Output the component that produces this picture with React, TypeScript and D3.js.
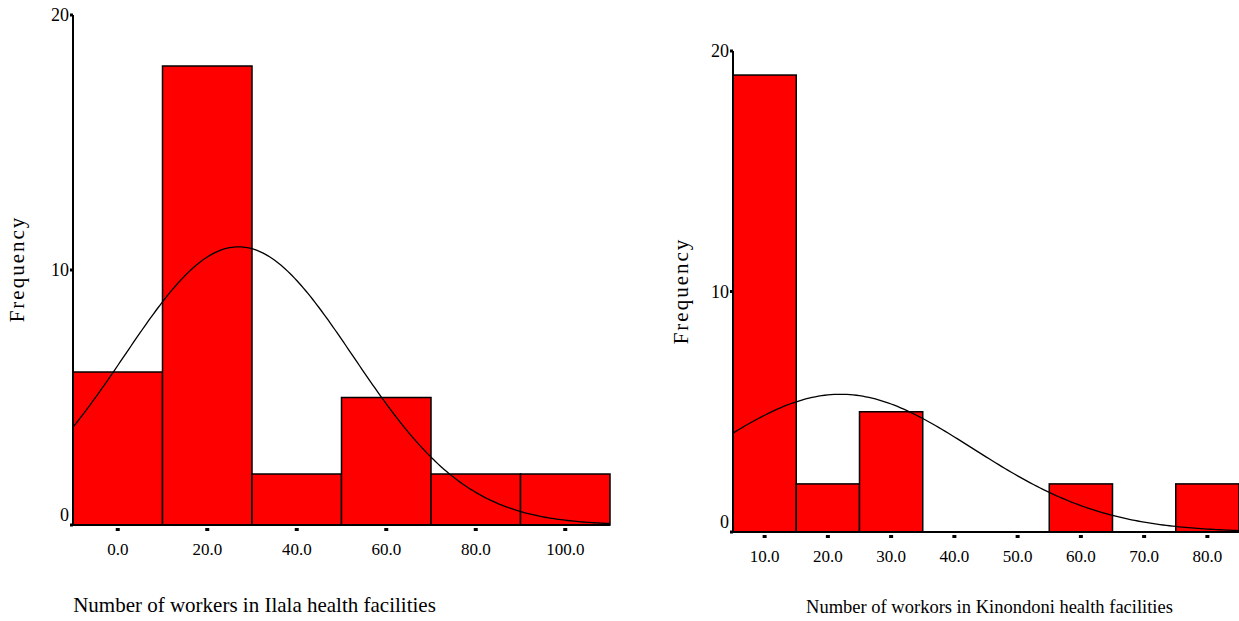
import React from "react";
import * as d3 from "d3";

// Ilala histogram (bin width 20)
const ilalaBins = [-10, 10, 30, 50, 70, 90, 110];
const ilalaCounts = [6, 18, 2, 5, 2, 2];
const ilalaTicks = [0, 20, 40, 60, 80, 100];
const ilalaMean = 27;
const ilalaSd = 25.6;

// Kinondoni histogram (bin width 10)
const kinoBins = [5, 15, 25, 35, 45, 55, 65, 75, 85];
const kinoCounts = [19, 2, 5, 0, 0, 2, 0, 2];
const kinoTicks = [10, 20, 30, 40, 50, 60, 70, 80];
const kinoMean = 22;
const kinoSd = 20.9;

const yTicks = [0, 10, 20];

const W = 1239;
const H = 621;
const FONT = "'Liberation Serif', 'Times New Roman', serif";

type HistProps = {
  bins: number[];
  counts: number[];
  ticks: number[];
  mean: number;
  sd: number;
  x0: number;
  x1: number;
  yTop: number;
  yBase: number;
  xTickY: number;
  title: string;
  titleX: number;
  titleY: number;
  titleSize: number;
  freqX: number;
  freqY: number;
};

const Histogram = (p: HistProps) => {
  const x = d3.scaleLinear().domain([p.bins[0], p.bins[p.bins.length - 1]]).range([p.x0, p.x1]);
  const y = d3.scaleLinear().domain([0, 20]).range([p.yBase, p.yTop]);
  const n = d3.sum(p.counts);
  const bw = p.bins[1] - p.bins[0];

  // fitted normal curve
  const pts = d3.range(p.bins[0], p.bins[p.bins.length - 1] + 0.01, 0.5).map((v) => {
    const z = (v - p.mean) / p.sd;
    return [v, (n * bw) / (p.sd * Math.sqrt(2 * Math.PI)) * Math.exp(-0.5 * z * z)] as [number, number];
  });
  const line = d3.line<[number, number]>().x((d) => x(d[0])).y((d) => y(d[1]));

  return (
    <g>
      {p.counts.map((c, i) =>
        c > 0 ? (
          <rect
            key={i}
            x={x(p.bins[i])}
            y={y(c)}
            width={x(p.bins[i + 1]) - x(p.bins[i])}
            height={p.yBase - y(c)}
            fill="#ff0000"
            stroke="#000"
            strokeWidth={1.5}
          />
        ) : null
      )}
      <path d={line(pts) || ""} fill="none" stroke="#000" strokeWidth={1.3} />
      {/* axes */}
      <line x1={p.x0} x2={p.x0} y1={y(20)} y2={p.yBase} stroke="#000" strokeWidth={2} />
      <line x1={p.x0} x2={p.x1} y1={p.yBase} y2={p.yBase} stroke="#000" strokeWidth={2} />
      {yTicks.map((t) => (
        <g key={t}>
          <rect x={p.x0 - 3} y={y(t) - 1.5} width={3} height={3} fill="#000" />
          <text
            x={p.x0 - 4}
            y={y(t) + (t === 0 ? -4 : 6)}
            textAnchor="end"
            fontFamily={FONT}
            fontSize={18}
          >
            {t}
          </text>
        </g>
      ))}
      {p.ticks.map((t) => (
        <g key={t}>
          <rect x={x(t) - 2} y={p.xTickY} width={4} height={3} fill="#000" />
          <text x={x(t)} y={p.xTickY + 27} textAnchor="middle" fontFamily={FONT} fontSize={17}>
            {t.toFixed(1)}
          </text>
        </g>
      ))}
      <text x={p.titleX} y={p.titleY} textAnchor="middle" fontFamily={FONT} fontSize={p.titleSize}>
        {p.title}
      </text>
      <text
        transform={`translate(${p.freqX},${p.freqY}) rotate(-90)`}
        textAnchor="middle"
        fontFamily={FONT}
        fontSize={21}
        letterSpacing={2}
      >
        Frequency
      </text>
    </g>
  );
};

const App = () => {
  return (
    <svg
      width={W}
      height={H}
      style={{ position: "absolute", left: 0, top: 0, background: "#fff" }}
    >
      <Histogram
        bins={ilalaBins}
        counts={ilalaCounts}
        ticks={ilalaTicks}
        mean={ilalaMean}
        sd={ilalaSd}
        x0={73}
        x1={610}
        yTop={15}
        yBase={525}
        xTickY={528}
        title="Number of workers in Ilala health facilities"
        titleX={254.5}
        titleY={612}
        titleSize={21}
        freqX={24}
        freqY={269}
      />
      <Histogram
        bins={kinoBins}
        counts={kinoCounts}
        ticks={kinoTicks}
        mean={kinoMean}
        sd={kinoSd}
        x0={733}
        x1={1239}
        yTop={51}
        yBase={532}
        xTickY={535}
        title="Number of workors in Kinondoni health facilities"
        titleX={989.5}
        titleY={613}
        titleSize={18.5}
        freqX={688}
        freqY={291}
      />
    </svg>
  );
};

export default App;
